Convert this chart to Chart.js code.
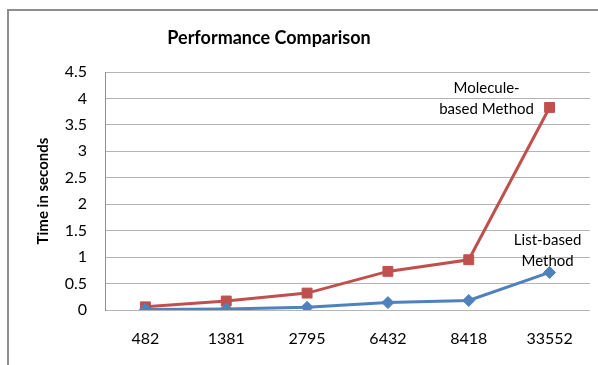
<!DOCTYPE html>
<html>
<head>
<meta charset="utf-8">
<script src="https://cdn.jsdelivr.net/npm/chart.js@4.4.1/dist/chart.umd.min.js"></script>
<style>
  html, body { margin: 0; padding: 0; background: #fff; overflow: hidden; }
  #frame { position: absolute; left: 7px; top: 9px; width: 700px; height: 500px; border: 2px solid #8e8e8e; }
  #wrap { position: absolute; left: 0; top: 0; width: 598px; height: 365px; }
</style>
</head>
<body>
<div id="frame"></div>
<div id="wrap"><canvas id="myChart" width="598" height="365"></canvas></div>
<script>
// data
var categories = ['482', '1381', '2795', '6432', '8418', '33552'];
var listBased = [0.01, 0.02, 0.05, 0.14, 0.18, 0.71];
var moleculeBased = [0.06, 0.17, 0.32, 0.73, 0.95, 3.83];
var endLabels = [['List-based', 'Method'], ['Molecule-', 'based Method']];
var chartTitle = 'Performance Comparison';
var yTitle = 'Time in seconds';

var fontFam = 'Lato, "Open Sans", sans-serif';

// titles + series labels at the last point
var extraText = {
  id: 'extraText',
  afterDraw: function (chart) {
    var ctx = chart.ctx;
    ctx.save();
    ctx.fillStyle = '#000';
    ctx.font = 'bold 18px ' + fontFam;
    ctx.textAlign = 'center';
    ctx.textBaseline = 'middle';
    ctx.fillText(chartTitle, 269, 38);

    ctx.font = '15px ' + fontFam;
    // list-based: above the point
    var p0 = chart.getDatasetMeta(0).data[categories.length - 1];
    ctx.fillText(endLabels[0][0], p0.x - 2, p0.y - 32);
    ctx.fillText(endLabels[0][1], p0.x - 2, p0.y - 11);
    // molecule-based: left of the point
    var p1 = chart.getDatasetMeta(1).data[categories.length - 1];
    ctx.fillText(endLabels[1][0], p1.x - 63, p1.y - 19);
    ctx.fillText(endLabels[1][1], p1.x - 63, p1.y + 2);
    ctx.restore();
  }
};

var ctx = document.getElementById('myChart').getContext('2d');
var chart = new Chart(ctx, {
  type: 'line',
  data: {
    labels: categories,
    datasets: [{
      label: 'List-based Method',
      data: listBased,
      borderColor: '#4F81BD',
      backgroundColor: '#4F81BD',
      borderWidth: 3,
      pointStyle: 'rectRot',
      pointRadius: 6,
      pointBorderWidth: 1,
      tension: 0
    }, {
      label: 'Molecule-based Method',
      data: moleculeBased,
      borderColor: '#C0504D',
      backgroundColor: '#C0504D',
      borderWidth: 3,
      pointStyle: 'rect',
      pointRadius: 7,
      pointBorderWidth: 1,
      tension: 0
    }]
  },
  options: {
    responsive: false,
    animation: false,
    layout: { padding: { left: 0, right: 7, top: 72, bottom: 0 } },
    plugins: {
      legend: { display: false },
      title: { display: false },
      tooltip: { enabled: false }
    },
    scales: {
      x: {
        offset: true,
        grid: { display: false, drawTicks: false },
        border: { display: false },
        ticks: { color: '#000', font: { family: fontFam, size: 16 }, padding: 19, maxRotation: 0 },
        afterFit: function (s) { s.height = 55; }
      },
      y: {
        min: 0,
        max: 4.5,
        grid: { color: '#b4b4b4', lineWidth: 1, drawTicks: false },
        border: { display: true, color: '#8e8e8e', width: 1 },
        ticks: {
          stepSize: 0.5, color: '#000', font: { family: fontFam, size: 16 }, padding: 18,
          callback: function (v) { return String(Math.round(v * 10) / 10); }
        },
        title: { display: true, text: yTitle, color: '#000', font: { family: fontFam, size: 15, weight: 'bold' }, padding: { top: 34, bottom: 0 } },
        afterFit: function (s) { s.width = 105; }
      }
    }
  },
  plugins: [extraText]
});
</script>
</body>
</html>
